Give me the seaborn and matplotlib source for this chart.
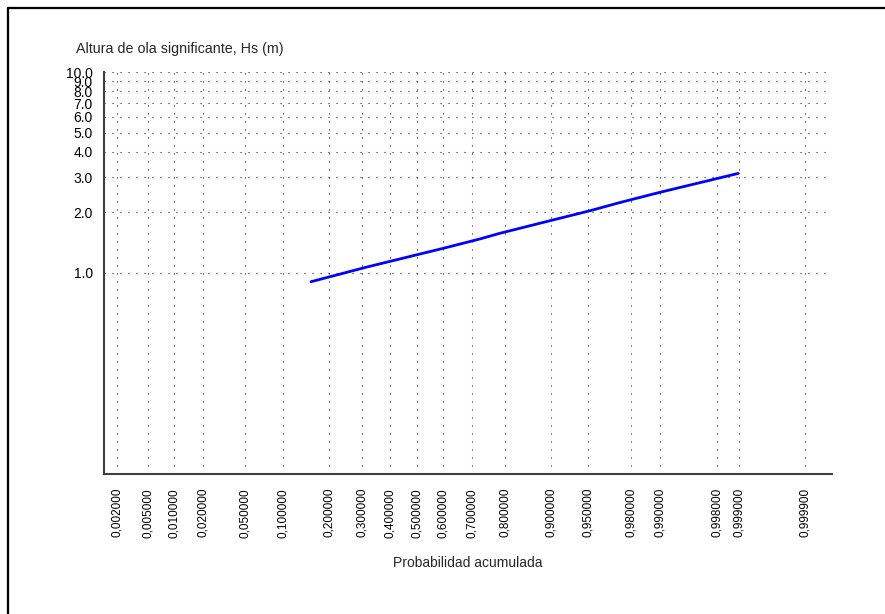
import numpy as np
import pandas as pd
import seaborn as sns
import matplotlib
matplotlib.use("Agg")
import matplotlib.pyplot as plt
from matplotlib.lines import Line2D
from statistics import NormalDist

# Empirical distribution of significant wave height
prob = [0.155, 0.315, 0.600, 0.727, 0.787, 0.899, 0.9514, 0.9732, 0.9901, 0.99897]
hs = [0.905, 1.07, 1.327, 1.477, 1.576, 1.82, 2.04, 2.23, 2.52, 3.13]

# Axis ticks
x_ticks = [0.002, 0.005, 0.01, 0.02, 0.05, 0.1, 0.2, 0.3, 0.4, 0.5, 0.6, 0.7,
           0.8, 0.9, 0.95, 0.98, 0.99, 0.998, 0.999, 0.9999]
y_ticks = [1.0, 2.0, 3.0, 4.0, 5.0, 6.0, 7.0, 8.0, 9.0, 10.0]

title_text = "Altura de ola significante, Hs (m)"
xlabel_text = "Probabilidad acumulada"

_nd = NormalDist()


def prob_to_z(p):
    p = np.clip(np.asarray(p, dtype=float), 1e-12, 1 - 1e-12)
    return np.vectorize(_nd.inv_cdf, otypes=[float])(p)


def z_to_prob(z):
    z = np.asarray(z, dtype=float)
    return np.vectorize(_nd.cdf, otypes=[float])(z)


sns.set_theme(style="white")
plt.rcParams["font.family"] = ["Liberation Sans", "DejaVu Sans"]

fig = plt.figure(figsize=(8.85, 6.14), dpi=100)
W, H = 885, 614
ax_left, ax_right, ax_top, ax_bottom = 104, 832, 72, 474
ax = fig.add_axes([ax_left / W, 1 - ax_bottom / H,
                   (ax_right - ax_left) / W, (ax_bottom - ax_top) / H])

df = pd.DataFrame({"prob": prob, "hs": hs})

# Normal probability paper on x, logarithmic wave height on y
ax.set_xscale("function", functions=(prob_to_z, z_to_prob))
ax.set_yscale("log")

sns.lineplot(data=df, x="prob", y="hs", ax=ax, color="#0000FF",
             linewidth=2.0, sort=True)

ax.set_xlim(_nd.cdf(-3.0), _nd.cdf(3.98))
ax.set_ylim(0.1, 10.0)

ax.set_xticks(x_ticks)
ax.set_xticklabels([f"{p:.6f}".replace(".", ",") for p in x_ticks],
                   rotation=90, fontsize=8.5)
ax.set_yticks(y_ticks)
ax.set_yticklabels([f"{v:.1f}" for v in y_ticks], fontsize=10)
ax.yaxis.set_minor_locator(matplotlib.ticker.NullLocator())
ax.xaxis.set_minor_locator(matplotlib.ticker.NullLocator())

ax.tick_params(axis="both", which="major", direction="inout", length=6,
               width=1.5, color="#303030", labelcolor="black")
ax.tick_params(axis="x", pad=7)
ax.tick_params(axis="y", pad=5)

ax.grid(True, which="major", color="#202020", linewidth=0.8,
        linestyle=(0, (1, 6.2)))

for side in ["top", "right"]:
    ax.spines[side].set_visible(False)
for side in ["left", "bottom"]:
    ax.spines[side].set_color("#404040")
    ax.spines[side].set_linewidth(1.5)

ax.set_xlabel(xlabel_text, fontsize=10, va="center")
ax.set_ylabel("")
ax.xaxis.set_label_coords(0.5, (ax_bottom - 563) / (ax_bottom - ax_top))

fig.text(76 / W, 1 - 49 / H, title_text, fontsize=10.3, ha="left", va="center")

# Outer frame lines
fig.add_artist(Line2D([8 / W, 8 / W], [0, 1 - 8 / H], transform=fig.transFigure,
                      color="black", linewidth=1.6))
fig.add_artist(Line2D([8 / W, 1], [1 - 8 / H, 1 - 8 / H], transform=fig.transFigure,
                      color="black", linewidth=1.6))

fig.savefig("out.png", dpi=100, facecolor="white")
